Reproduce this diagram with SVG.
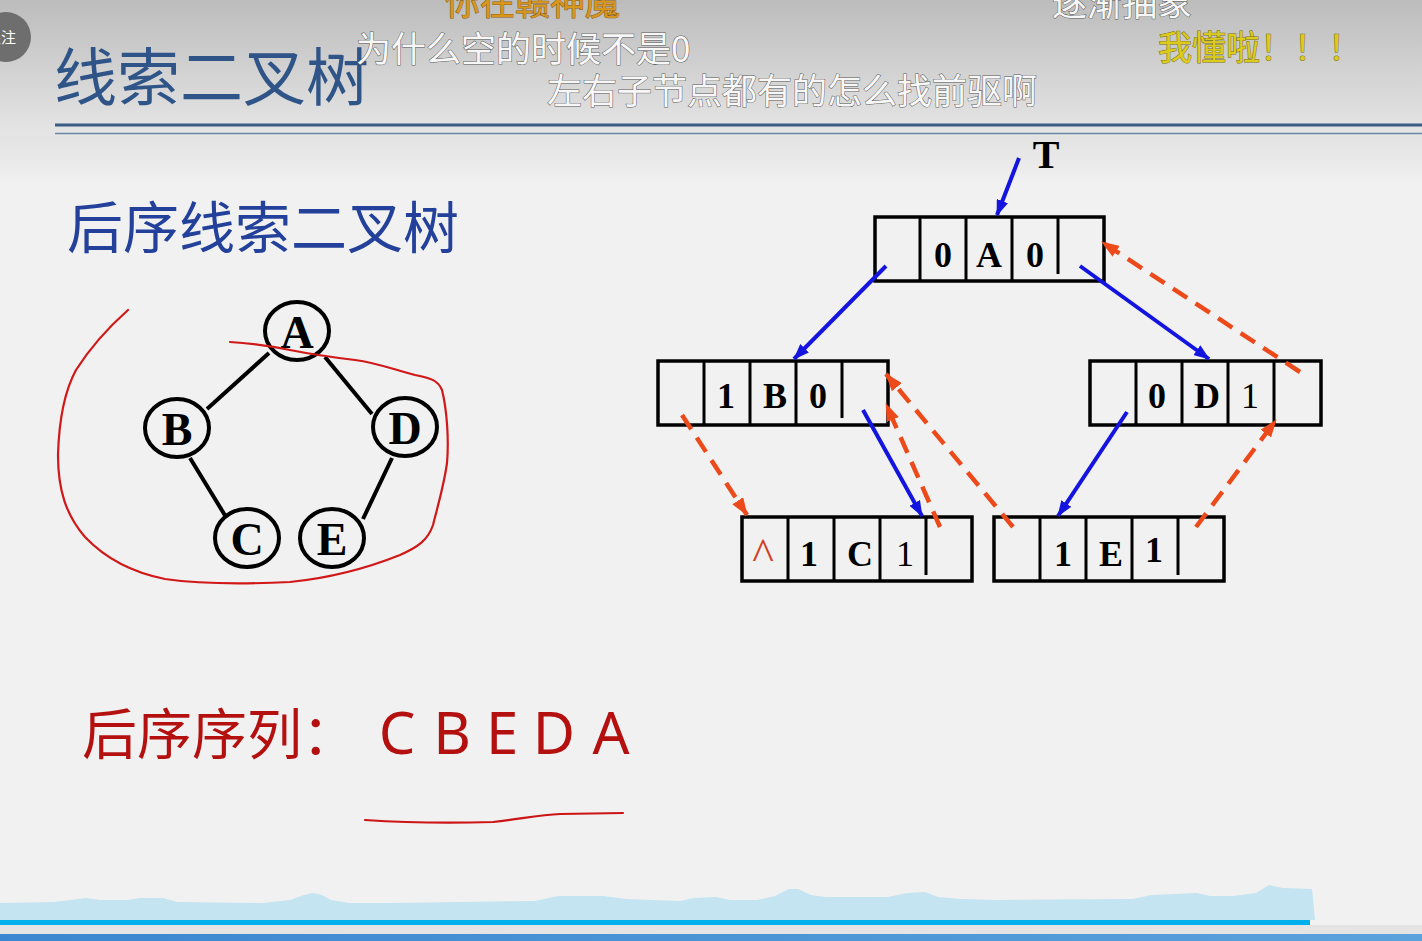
<svg xmlns="http://www.w3.org/2000/svg" width="1422" height="941" viewBox="0 0 1422 941">
<style>
.cell{fill:none;stroke:#000;stroke-width:3.5}
.div{stroke:#000;stroke-width:3}
.ct{font-family:"Liberation Serif",serif;font-size:36px;font-weight:bold;text-anchor:middle;fill:#000}
.thin{font-weight:normal}
.circ{fill:none;stroke:#000;stroke-width:4}
.edge{stroke:#000;stroke-width:4}
.tl{font-family:"Liberation Serif",serif;font-size:46px;font-weight:bold;text-anchor:middle;fill:#000}
.blue{stroke:#1414e0;stroke-width:4;fill:none}
.red{stroke:#ec4a1a;stroke-width:4.5;fill:none;stroke-dasharray:17 10}
.dm{font-family:"Noto Sans CJK SC",sans-serif;font-size:35px;fill:#f7f7f7;stroke:#5a5a5a;stroke-width:1;paint-order:stroke}
.dms{font-family:"Noto Sans CJK SC",sans-serif;font-size:35px;fill:#8a8a8a;opacity:0.7}
</style>
<defs>
<linearGradient id="hdr" x1="0" y1="0" x2="0" y2="1">
<stop offset="0" stop-color="#bcbcbc"/>
<stop offset="1" stop-color="#e6e6e6"/>
</linearGradient>
<linearGradient id="sub" x1="0" y1="0" x2="0" y2="1">
<stop offset="0" stop-color="#e2e2e2"/>
<stop offset="1" stop-color="#f1f1f1"/>
</linearGradient>
<linearGradient id="bar" x1="0" y1="0" x2="1" y2="0">
<stop offset="0" stop-color="#3a86d0"/>
<stop offset="1" stop-color="#5aa2dc"/>
</linearGradient>
<marker id="ab" viewBox="0 0 16 12" refX="15" refY="6" markerWidth="16" markerHeight="12" markerUnits="userSpaceOnUse" orient="auto">
<path d="M0,0 L16,6 L0,12 z" fill="#1414e0"/>
</marker>
<marker id="ar" viewBox="0 0 18 13" refX="17" refY="6.5" markerWidth="18" markerHeight="13" markerUnits="userSpaceOnUse" orient="auto">
<path d="M0,0 L18,6.5 L0,13 z" fill="#ec4a1a"/>
</marker>
</defs>

<!-- background -->
<rect x="0" y="0" width="1422" height="941" fill="#f1f1f1"/>
<rect x="0" y="0" width="1422" height="136" fill="url(#hdr)"/>
<rect x="0" y="136" width="1422" height="50" fill="url(#sub)"/>
<line x1="55" y1="125" x2="1422" y2="125" stroke="#3a5d85" stroke-width="3"/>
<line x1="55" y1="133.5" x2="1422" y2="133.5" stroke="#6d86a2" stroke-width="1.5"/>

<!-- follow badge -->
<g id="badge">
<circle cx="6" cy="37" r="25" fill="#6e6e6e"/>
<text x="-14" y="43" font-family="Noto Sans CJK SC,sans-serif" font-size="15" fill="#ffffff">关注</text>
</g>

<!-- titles -->
<text id="title" x="54" y="100" font-family="Noto Sans CJK SC,sans-serif" font-size="63" fill="#2f5488">线索二叉树</text>
<text id="subtitle" x="67" y="248" font-family="Noto Sans CJK SC,sans-serif" font-size="56" fill="#23409a">后序线索二叉树</text>

<!-- danmaku -->
<g id="danmaku">
<text x="445" y="15" class="dm" style="fill:#d8961c;stroke:#8a5a10">你在赣神魔</text>
<text x="1052" y="16" class="dm">逐渐抽象</text>
<text x="356" y="62" class="dm">为什么空的时候不是0</text>
<text x="1158" y="60" class="dm" style="fill:#dccb1a;stroke:#7a7010;font-size:34px">我懂啦！！！</text>
<text x="547" y="104" class="dm">左右子节点都有的怎么找前驱啊</text>
</g>

<!-- left tree -->
<g id="tree-edges">
<line class="edge" x1="269" y1="353" x2="207" y2="409"/>
<line class="edge" x1="325" y1="357" x2="372" y2="414"/>
<line class="edge" x1="190" y1="458" x2="226" y2="517"/>
<line class="edge" x1="392" y1="458" x2="363" y2="519"/>
</g>
<g id="tA"><ellipse class="circ" cx="297" cy="331" rx="32" ry="29"/><text class="tl" x="297" y="348">A</text></g>
<g id="tB"><ellipse class="circ" cx="177" cy="428" rx="32" ry="29"/><text class="tl" x="177" y="445">B</text></g>
<g id="tD"><ellipse class="circ" cx="405" cy="427" rx="32" ry="29"/><text class="tl" x="405" y="444">D</text></g>
<g id="tC"><ellipse class="circ" cx="247" cy="538" rx="32" ry="29"/><text class="tl" x="247" y="555">C</text></g>
<g id="tE"><ellipse class="circ" cx="332" cy="538" rx="32" ry="29"/><text class="tl" x="332" y="555">E</text></g>

<path id="scribble" d="M128,310 C110,326 90,348 76,370 C64,392 59,420 58,455 C58,490 66,515 85,537 C105,558 130,572 165,579 C200,584 250,584 290,582 C330,578 370,567 400,555 C418,547 428,540 433,525 C438,505 444,485 447,463 C449,440 447,410 442,390 C438,380 430,378 415,375 C395,370 378,363 355,360 C330,357 310,354 290,350 C270,346 250,343 230,342" fill="none" stroke="#d01818" stroke-width="2.2" stroke-linejoin="round" stroke-linecap="round"/>

<!-- sequence -->
<g id="sequence" font-family="Noto Sans CJK SC,sans-serif" fill="#b41010">
<text x="82" y="754" font-size="55">后序序列：</text>
<text x="397" y="754" font-size="58" text-anchor="middle" font-family="Noto Sans,sans-serif">C</text>
<text x="452" y="754" font-size="58" text-anchor="middle" font-family="Noto Sans,sans-serif">B</text>
<text x="502" y="754" font-size="58" text-anchor="middle" font-family="Noto Sans,sans-serif">E</text>
<text x="554" y="754" font-size="58" text-anchor="middle" font-family="Noto Sans,sans-serif">D</text>
<text x="611" y="754" font-size="58" text-anchor="middle" font-family="Noto Sans,sans-serif">A</text>
</g>
<path id="underline" d="M365,820 C410,823 460,823 493,822 C520,819 540,815 560,814 L623,813" fill="none" stroke="#cc1414" stroke-width="2.2" stroke-linecap="round"/>

<!-- thread nodes -->
<g id="nA">
<rect class="cell" x="875" y="217" width="229" height="64"/>
<line class="div" x1="920" y1="217" x2="920" y2="281"/>
<line class="div" x1="966" y1="217" x2="966" y2="281"/>
<line class="div" x1="1012" y1="217" x2="1012" y2="281"/>
<line class="div" x1="1058" y1="217" x2="1058" y2="274"/>
<text class="ct" x="943" y="267">0</text>
<text class="ct" x="989" y="267">A</text>
<text class="ct" x="1035" y="267">0</text>
</g>
<g id="nB">
<rect class="cell" x="658" y="361" width="230" height="64"/>
<line class="div" x1="704" y1="361" x2="704" y2="425"/>
<line class="div" x1="750" y1="361" x2="750" y2="425"/>
<line class="div" x1="796" y1="361" x2="796" y2="425"/>
<line class="div" x1="842" y1="361" x2="842" y2="418"/>
<text class="ct" x="726" y="408">1</text>
<text class="ct" x="775" y="408">B</text>
<text class="ct" x="818" y="408">0</text>
</g>
<g id="nD">
<rect class="cell" x="1090" y="361" width="231" height="64"/>
<line class="div" x1="1136" y1="361" x2="1136" y2="425"/>
<line class="div" x1="1182" y1="361" x2="1182" y2="425"/>
<line class="div" x1="1228" y1="361" x2="1228" y2="425"/>
<line class="div" x1="1274" y1="361" x2="1274" y2="425"/>
<text class="ct" x="1157" y="408">0</text>
<text class="ct" x="1207" y="408">D</text>
<text class="ct thin" x="1250" y="408">1</text>
</g>
<g id="nC">
<rect class="cell" x="742" y="517" width="230" height="64"/>
<line class="div" x1="788" y1="517" x2="788" y2="581"/>
<line class="div" x1="834" y1="517" x2="834" y2="581"/>
<line class="div" x1="880" y1="517" x2="880" y2="581"/>
<line class="div" x1="926" y1="517" x2="926" y2="575"/>
<text x="763" y="570" font-family="Liberation Serif,serif" font-size="46" fill="#d04020" text-anchor="middle">^</text>
<text class="ct" x="809" y="566">1</text>
<text class="ct" x="860" y="566">C</text>
<text class="ct thin" x="905" y="566">1</text>
</g>
<g id="nE">
<rect class="cell" x="994" y="517" width="230" height="64"/>
<line class="div" x1="1040" y1="517" x2="1040" y2="581"/>
<line class="div" x1="1086" y1="517" x2="1086" y2="581"/>
<line class="div" x1="1132" y1="517" x2="1132" y2="581"/>
<line class="div" x1="1178" y1="517" x2="1178" y2="575"/>
<text class="ct" x="1063" y="566">1</text>
<text class="ct" x="1111" y="566">E</text>
<text class="ct" x="1154" y="562">1</text>
</g>
<text id="T" x="1046" y="168" font-family="Liberation Serif,serif" font-size="40" font-weight="bold" text-anchor="middle">T</text>

<!-- connectors -->
<g id="connectors">
<line class="blue" x1="1019" y1="158" x2="997" y2="215" stroke-width="2.8" marker-end="url(#ab)"/>
<line class="blue" x1="886" y1="266" x2="794" y2="359" marker-end="url(#ab)"/>
<line class="blue" x1="1080" y1="266" x2="1209" y2="359" marker-end="url(#ab)"/>
<line class="blue" x1="863" y1="410" x2="922" y2="516" marker-end="url(#ab)"/>
<line class="blue" x1="1127" y1="412" x2="1058" y2="516" marker-end="url(#ab)"/>
<line class="red" x1="682" y1="415" x2="747" y2="515" marker-end="url(#ar)"/>
<line class="red" x1="940" y1="527" x2="886" y2="404" marker-end="url(#ar)"/>
<line class="red" x1="1013" y1="527" x2="886" y2="374" marker-end="url(#ar)"/>
<line class="red" x1="1300" y1="372" x2="1102" y2="242" marker-end="url(#ar)"/>
<line class="red" x1="1196" y1="527" x2="1276" y2="420" marker-end="url(#ar)"/>
</g>

<!-- bottom player bar -->
<g id="player">
<path d="M0,903 L54,902 L86,898 L100,900 L127,900 L140,898 L163,898 L177,902 L263,903 L290,900 L304,895 L313,893 L322,895 L331,900 L349,903 L390,903 L462,902 L535,901 L558,896 L603,896 L626,899 L680,901 L694,898 L716,897 L730,900 L757,900 L775,896 L789,889 L798,889 L811,895 L825,897 L888,897 L907,893 L925,892 L938,897 L961,899 L997,900 L1133,899 L1151,895 L1197,893 L1210,896 L1233,896 L1256,893 L1269,885 L1283,888 L1312,889 L1315,920 L0,920 Z" fill="#c4e4f1"/>
<rect x="0" y="920" width="1310" height="5" fill="#00b0ec"/>
<rect x="0" y="925" width="1422" height="9" fill="#e4e4e4"/>
<rect x="0" y="934" width="1422" height="7" fill="url(#bar)"/>
</g>
</svg>
